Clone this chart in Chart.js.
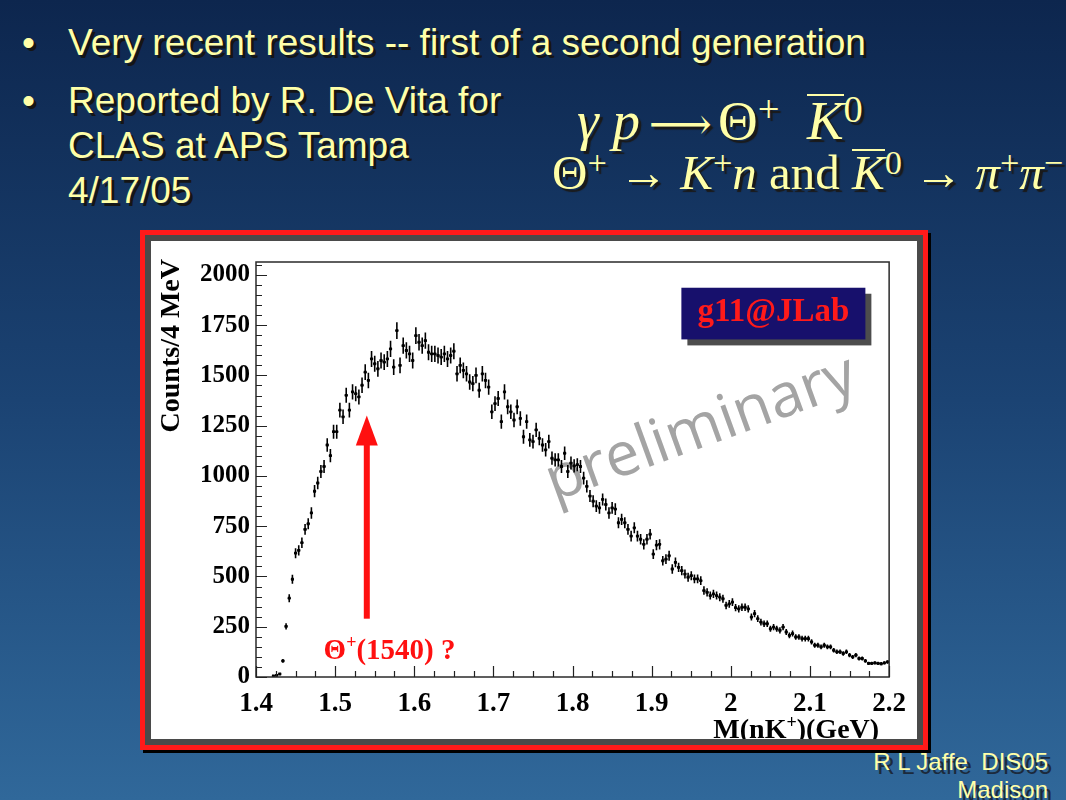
<!DOCTYPE html>
<html><head><meta charset="utf-8">
<script src="https://cdn.jsdelivr.net/npm/chart.js@4.4.1/dist/chart.umd.min.js"></script>
<style>
html,body{margin:0;padding:0;}
body{width:1066px;height:800px;overflow:hidden;position:relative;
 background:linear-gradient(to bottom,#0d264e 0%,#1b4373 50%,#30689a 100%);
 font-family:"Liberation Sans",Arial,sans-serif;}
.t{position:absolute;color:#ffffa8;text-shadow:3px 3px 0 #151515;white-space:nowrap;}
.big{font-size:37px;line-height:45px;}
.f{position:absolute;color:#ffffa8;text-shadow:3px 3px 1px #1a1a1a;white-space:nowrap;font-family:"Liberation Serif","Times New Roman",serif;}
.i{font-style:italic;}
.sp{position:relative;top:-0.45em;font-size:0.7em;}
.ov{display:inline-block;border-top:2px solid #ffffa8;line-height:0.9em;}
.la{display:inline-block;font-family:"DejaVu Serif",serif;font-size:0.8em;margin:0 0.14em 0 0.2em;}
#panel{position:absolute;left:140px;top:230px;width:778px;height:510px;border:5px solid #ff1a1a;box-shadow:3px 3px 0 #000;}
#inner{width:766px;height:498px;border:6px solid #4a4a4a;background:#fff;}
#wrap{position:absolute;left:151px;top:241px;width:766px;height:498px;}
.foot{position:absolute;right:18px;color:#ffffa8;font-size:24px;text-shadow:4px 4px 0 #1c2a3c;white-space:nowrap;text-align:right;}
</style></head>
<body>
<div class="t big" style="left:22px;top:20px;">•</div>
<div class="t big" style="left:68px;top:20px;">Very recent results -- first of a second generation</div>
<div class="t big" style="left:22px;top:78px;">•</div>
<div class="t big" style="left:68px;top:78px;">Reported by R. De Vita for<br>CLAS at APS Tampa<br>4/17/05</div>

<div class="f" style="left:577px;top:93px;font-size:55px;line-height:55px;"><span class="i">γ p</span><span class="la">⟶</span>Θ<span class="sp">+</span> &nbsp;<span class="ov i">K</span><span class="sp">0</span></div>
<div class="f" style="left:552px;top:148px;font-size:49px;line-height:49px;">Θ<span class="sp">+</span> → <span class="i">K</span><span class="sp">+</span><span class="i">n</span> and <span class="ov i">K</span><span class="sp">0</span> → <span class="i">π</span><span class="sp">+</span><span class="i">π</span><span class="sp">−</span></div>

<div id="panel"><div id="inner"></div></div>
<div id="wrap"><canvas id="c" width="766" height="498"></canvas></div>

<div class="foot" style="top:748px;">R L Jaffe&nbsp; DIS05</div>
<div class="foot" style="top:776px;">Madison</div>

<script>
// ---- data ----
const binStart = 1.400;   // GeV
const binWidth = 0.004;   // GeV (4 MeV bins)
const counts = [
 null,null,null,null,null,5,8,15,80,252,
 392,486,616,630,668,734,762,816,924,965,
 1022,1047,1154,1101,1220,1220,1327,1294,1401,1327,
 1418,1409,1393,1451,1516,1475,1582,1558,1533,1574,
 1566,1582,1632,1541,1723,1550,1648,1624,1607,1574,
 1698,1665,1648,1673,1615,1607,1607,1599,1591,1607,
 1582,1599,1620,1508,1550,1525,1508,1467,1459,1500,
 1426,1508,1475,1442,1319,1360,1385,1270,1418,1344,
 1319,1278,1344,1286,1195,1270,1179,1171,1229,1187,
 1154,1130,1171,1088,1080,1080,1047,1113,1022,1064,
 1050,1056,1047,989,948,900,874,850,841,883,
 858,816,841,835,767,784,767,734,701,742,
 701,685,660,685,710,611,656,660,578,586,
 603,537,570,545,529,512,496,504,488,488,
 479,430,421,405,413,405,397,389,356,364,
 372,345,339,347,347,339,298,315,290,273,
 265,265,240,248,240,232,248,224,207,216,
 199,199,191,191,191,175,158,158,150,158,
 150,150,133,125,125,117,125,109,100,109,
 92,92,80,68,68,70,68,66,70,75
];
const xTickValues = [1.4,1.5,1.6,1.7,1.8,1.9,2.0,2.1,2.2];
const xTickLabels = ['1.4','1.5','1.6','1.7','1.8','1.9','2','2.1','2.2'];
const yTickValues = [0,250,500,750,1000,1250,1500,1750,2000];
const yTickLabels = ['0','250','500','750','1000','1250','1500','1750','2000'];
const xMinorStep = 0.025, yMinorStep = 50;
const xMin = 1.4, xMax = 2.2, yMin = 0, yMax = 2064;
const xTitle = ['M(nK', '+', ')(GeV)'];
const yTitle = 'Counts/4 MeV';
const arrowAt = {x:1.540, from:290, to:1300};
const thetaLabel = {x:1.4854, y:89, parts:['Θ','+','(1540) ?']};
const watermark = {x:1.9700, y:1150, text:'preliminary', angle:-20};
const g11Box = {x0:1.9375, x1:2.170, y0:1679, y1:1936, text:'g11@JLab'};

const points = [];
counts.forEach((c,i)=>{ if(c!==null) points.push({x: binStart + binWidth*(i+0.5), y:c}); });

const serif = '"Liberation Serif","Times New Roman",serif';

const decor = {
 id:'decor',
 beforeDatasetsDraw(chart){
  const {ctx, scales:{x,y}} = chart;
  ctx.save();
  ctx.translate(x.getPixelForValue(watermark.x), y.getPixelForValue(watermark.y));
  ctx.rotate(watermark.angle*Math.PI/180);
  ctx.font = '61px "Open Sans"';
  ctx.fillStyle = '#a4a4a4';
  ctx.textAlign = 'center'; ctx.textBaseline = 'alphabetic';
  ctx.fillText(watermark.text, 0, 0);
  ctx.restore();
 },
 afterDatasetsDraw(chart){
  const {ctx, chartArea:a, scales:{x,y}} = chart;
  ctx.save();
  ctx.beginPath(); ctx.rect(a.left,a.top,a.right-a.left,a.bottom-a.top); ctx.clip();
  ctx.strokeStyle = '#000'; ctx.lineWidth = 1.6;
  ctx.beginPath();
  points.forEach(p=>{
   const px = x.getPixelForValue(p.x), py = y.getPixelForValue(p.y);
   const e = Math.sqrt(p.y);
   ctx.moveTo(px, y.getPixelForValue(p.y+e)); ctx.lineTo(px, y.getPixelForValue(Math.max(0,p.y-e)));
   ctx.moveTo(x.getPixelForValue(p.x-binWidth/2), py); ctx.lineTo(x.getPixelForValue(p.x+binWidth/2), py);
  });
  ctx.stroke();
  ctx.restore();
 },
 afterDraw(chart){
  const {ctx, chartArea:a, scales:{x,y}} = chart;
  ctx.save();
  // frame
  ctx.strokeStyle = '#2a2a2a'; ctx.lineWidth = 1.5;
  ctx.strokeRect(a.left, a.top, a.right-a.left, a.bottom-a.top);
  // ticks
  ctx.lineWidth = 1.2; ctx.strokeStyle = '#222';
  ctx.beginPath();
  for (let v = yMin; v <= yMax + 1e-9; v += yMinorStep) {
   const py = Math.round(y.getPixelForValue(v)) + 0.5;
   const major = yTickValues.includes(v);
   ctx.moveTo(a.left, py); ctx.lineTo(a.left + (major ? 11 : 6), py);
  }
  for (let k = 0; xMin + k*xMinorStep <= xMax + 1e-9; k++) {
   const v = xMin + k*xMinorStep;
   const px = Math.round(x.getPixelForValue(v)) + 0.5;
   const major = (k % 4 === 0);
   ctx.moveTo(px, a.bottom); ctx.lineTo(px, a.bottom - (major ? 11 : 6));
  }
  ctx.stroke();
  // y title
  ctx.save();
  ctx.translate(a.left - 84, a.top - 3);
  ctx.rotate(-Math.PI/2);
  ctx.font = 'bold 28px ' + serif;
  ctx.fillStyle = '#000'; ctx.textAlign = 'right'; ctx.textBaseline = 'middle';
  ctx.fillText(yTitle, 0, 0);
  ctx.restore();
  // x title
  ctx.fillStyle = '#000'; ctx.textBaseline = 'alphabetic'; ctx.textAlign = 'left';
  const fBig = 'bold 28px ' + serif, fSm = 'bold 18px ' + serif;
  ctx.font = fBig; const w0 = ctx.measureText(xTitle[0]).width, w2 = ctx.measureText(xTitle[2]).width;
  ctx.font = fSm; const w1 = ctx.measureText(xTitle[1]).width;
  let sx = a.right - 10 - (w0+w1+w2); const by = a.bottom + 61;
  ctx.font = fBig; ctx.fillText(xTitle[0], sx, by); sx += w0;
  ctx.font = fSm; ctx.fillText(xTitle[1], sx, by - 10); sx += w1;
  ctx.font = fBig; ctx.fillText(xTitle[2], sx, by);
  // arrow
  const ax = x.getPixelForValue(arrowAt.x), ay0 = y.getPixelForValue(arrowAt.from), ay1 = y.getPixelForValue(arrowAt.to);
  ctx.fillStyle = '#ff1010';
  ctx.fillRect(ax-3, ay1+28, 6, ay0-(ay1+28));
  ctx.beginPath(); ctx.moveTo(ax, ay1); ctx.lineTo(ax-11, ay1+30); ctx.lineTo(ax+11, ay1+30); ctx.closePath(); ctx.fill();
  // theta label
  let tx = x.getPixelForValue(thetaLabel.x); const ty = y.getPixelForValue(thetaLabel.y);
  ctx.font = 'bold 29px ' + serif; ctx.fillText(thetaLabel.parts[0], tx, ty); tx += ctx.measureText(thetaLabel.parts[0]).width;
  ctx.font = 'bold 18px ' + serif; ctx.fillText(thetaLabel.parts[1], tx, ty - 11); tx += ctx.measureText(thetaLabel.parts[1]).width;
  ctx.font = 'bold 29px ' + serif; ctx.fillText(thetaLabel.parts[2], tx, ty);
  // g11 box
  const bx0 = x.getPixelForValue(g11Box.x0), bx1 = x.getPixelForValue(g11Box.x1);
  const by0 = y.getPixelForValue(g11Box.y1), by1 = y.getPixelForValue(g11Box.y0);
  ctx.fillStyle = '#4d4d4d'; ctx.fillRect(bx0+6, by0+6, bx1-bx0, by1-by0);
  ctx.fillStyle = '#17106c'; ctx.fillRect(bx0, by0, bx1-bx0, by1-by0);
  ctx.fillStyle = '#ff1a1a'; ctx.font = 'bold 33px ' + serif; ctx.textAlign = 'center'; ctx.textBaseline = 'alphabetic';
  ctx.fillText(g11Box.text, (bx0+bx1)/2, by0 + 33);
  ctx.restore();
 }
};

const tickFont = (s)=>({family:'Liberation Serif', weight:'bold', size:s});
new Chart(document.getElementById('c'), {
 type:'scatter',
 data:{datasets:[{data:points, pointStyle:'rect', pointRadius:2, pointHoverRadius:2, borderWidth:0, backgroundColor:'#000', borderColor:'#000'}]},
 options:{
  responsive:false, animation:false, events:[],
  layout:{padding:{top:18, right:24, left:0, bottom:0}},
  plugins:{legend:{display:false}, tooltip:{enabled:false}},
  scales:{
   x:{type:'linear', min:xMin, max:xMax,
      grid:{display:false, drawTicks:false}, border:{display:false},
      afterBuildTicks:s=>{ s.ticks = xTickValues.map(v=>({value:v})); },
      afterFit:s=>{ s.height = 62; },
      ticks:{autoSkip:false, maxRotation:0, minRotation:0, padding:11, color:'#000', font:tickFont(27),
             callback:(v,i)=>xTickLabels[i]}},
   y:{type:'linear', min:yMin, max:yMax,
      grid:{display:false, drawTicks:false}, border:{display:false},
      afterBuildTicks:s=>{ s.ticks = yTickValues.map(v=>({value:v})); },
      afterFit:s=>{ s.width = 105; },
      ticks:{autoSkip:false, padding:6, color:'#000', font:tickFont(25),
             callback:(v,i)=>yTickLabels[i]}}
  }
 },
 plugins:[decor]
});
</script>
</body></html>
